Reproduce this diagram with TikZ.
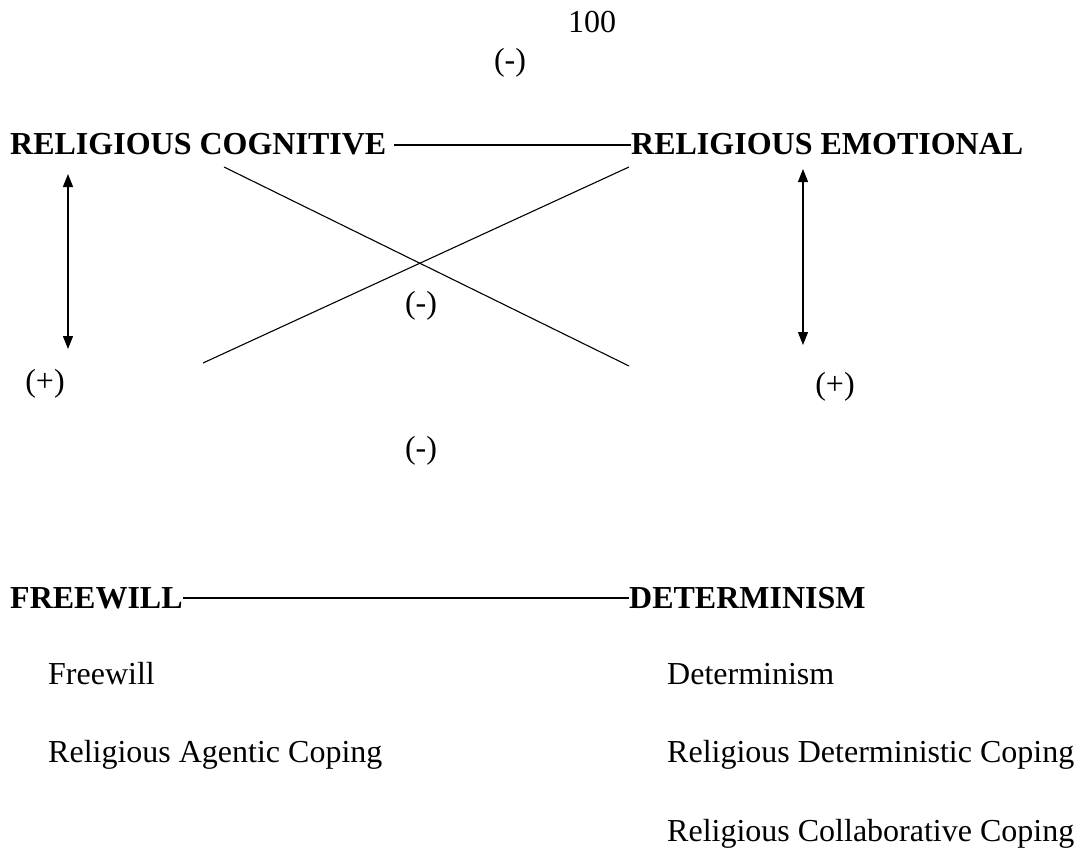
\documentclass[tikz,border=0pt]{standalone}
\usepackage{fontspec}
\setmainfont{Liberation Serif}
\usetikzlibrary{arrows.meta}
\tikzset{
  lbl/.style={inner sep=0pt, anchor=base west},
  sign/.style={inner sep=0pt, anchor=base},
  head/.style={lbl, font=\fontsize{32}{38}\selectfont\bfseries},
  tie/.style={line width=1.6pt},
  twoway/.style={line width=1.1pt, {Triangle[length=13pt,width=10pt]}-{Triangle[length=13pt,width=10pt]}}
}
\begin{document}
\begin{tikzpicture}[x=1pt, y=-1pt, font=\fontsize{32}{38}\selectfont]
        \useasboundingbox (0,0) rectangle (1087,856);

        \node [sign] (page) at (592,33) {100};
        \node [sign] (topsign) at (510,71) {(-)};

        \node [head] (cog) at (10,155) {RELIGIOUS COGNITIVE};
        \node [head] (emo) at (631,155) {RELIGIOUS EMOTIONAL};
        \draw [tie] ([xshift=8pt,yshift=10pt]cog.base east) -- ([yshift=10pt]emo.base west);

        \coordinate (cogtop) at (224,167);
        \coordinate (cogbot) at (629,366);
        \coordinate (emotop) at (629,167);
        \coordinate (emobot) at (203,363);
        \draw [line width=1.1pt] (cogtop) -- (cogbot);
        \draw [line width=1.1pt] (emotop) -- (emobot);
        \node [sign] (midsign) at (421,313) {(-)};

        \coordinate (lefttop) at (68,174);
        \coordinate (leftbot) at (68,349);
        \coordinate (righttop) at (803,169);
        \coordinate (rightbot) at (803,345);
        \draw [twoway] (lefttop) -- (leftbot);
        \draw [twoway] (righttop) -- (rightbot);
        \node [sign] (leftplus) at (45,391) {(+)};
        \node [sign] (rightplus) at (835,394) {(+)};

        \node [sign] (lowsign) at (421,458) {(-)};

        \node [head] (free) at (10,608) {FREEWILL};
        \node [head] (det) at (629,608) {DETERMINISM};
        \draw [tie] ([yshift=10pt]free.base east) -- ([yshift=10pt]det.base west);

        \node [lbl] (freeitem) at (48,684) {Freewill};
        \node [lbl] (agentic) at (48,762) {Religious Agentic Coping};
        \node [lbl] (detitem) at (667,684) {Determinism};
        \node [lbl] (detcope) at (667,762) {Religious Deterministic Coping};
        \node [lbl] (collab) at (667,841) {Religious Collaborative Coping};
      \end{tikzpicture}
\end{document}
